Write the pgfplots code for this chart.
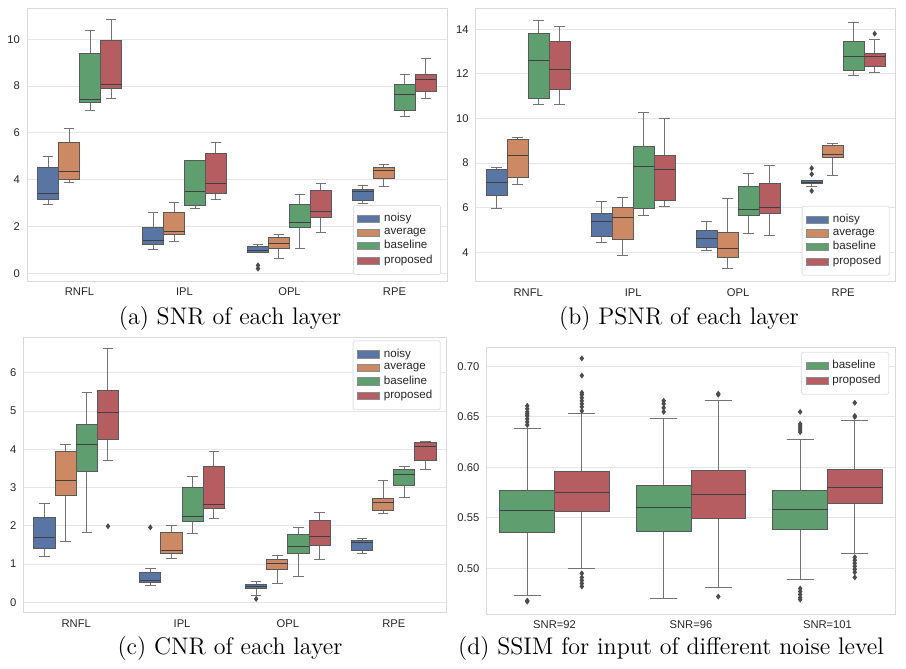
\documentclass[border=0pt]{standalone}
\usepackage{pgfplots}
\pgfplotsset{compat=1.18}
\usepgfplotslibrary{statistics}
\usepackage{fontspec}
\newfontfamily\arial{Liberation Sans}

\definecolor{cb}{HTML}{5875A4}
\definecolor{co}{HTML}{CC8963}
\definecolor{cg}{HTML}{5F9E6E}
\definecolor{cr}{HTML}{B55D60}

% one box: position, colour, low whisker, q1, median, q3, high whisker, outliers
\newcommand{\bx}[8]{\addplot[forget plot, fill=#2, draw=black!65, line width=0.5pt,
  mark=diamond*, mark size=1.1pt, mark options={fill=black!70, draw=black!70},
  boxplot prepared={draw direction=y, draw position=#1, lower whisker=#3, lower quartile=#4,
  median=#5, upper quartile=#6, upper whisker=#7}] coordinates {#8};}

\pgfplotsset{sb/.style={
  scale only axis, anchor=south west,
  axis line style={black!15},
  ymajorgrids, grid style={black!10, line width=0.5pt},
  major tick length=0pt,
  tick label style={font=\fontsize{5.6}{6.5}\selectfont\arial, text=black!85},
  /pgf/number format/assume math mode=true,
  xmin=-0.5, xmax=3.5, xtick={0,1,2,3}, xticklabels={RNFL,IPL,OPL,RPE},
  boxplot/box extend=0.2, boxplot/whisker extend=0.1,
  boxplot/every whisker/.style={black!55},
  boxplot/every median/.style={black!75},
  legend cell align=left,
  legend style={font=\fontsize{5.8}{6.5}\selectfont\arial, draw=black!12,
    rounded corners=1pt, text=black!85, row sep=-2.4pt, inner sep=2pt},
  legend image code/.code={\draw[##1, draw=black!45, line width=0.4pt, sharp corners] (0pt,-1.8pt) rectangle (11pt,1.8pt);},
}}

\begin{document}
\begin{tikzpicture}
\path[use as bounding box] (0,0) rectangle (453pt,334.5pt);

% (a) SNR
\begin{axis}[sb, width=210pt, height=136.5pt, at={(13.5pt,194pt)},
  ymin=-0.33, ymax=11.34, ytick={0,2,...,10},
  legend style={at={(1,0)}, anchor=south east, xshift=-3pt, yshift=3pt}]
\bx{-0.3}{cb}{2.95}{3.15}{3.43}{4.53}{5.01}{}
\bx{-0.1}{co}{3.9}{3.99}{4.37}{5.57}{6.2}{}
\bx{0.1}{cg}{6.97}{7.31}{7.44}{9.4}{10.36}{}
\bx{0.3}{cr}{7.49}{7.88}{8.05}{9.94}{10.83}{}
\bx{0.7}{cb}{1.0}{1.24}{1.42}{1.95}{2.6}{}
\bx{0.9}{co}{1.37}{1.64}{1.79}{2.6}{3.03}{}
\bx{1.1}{cg}{2.76}{2.89}{3.49}{4.83}{4.84}{}
\bx{1.3}{cr}{3.16}{3.4}{3.85}{5.1}{5.6}{}
\bx{1.7}{cb}{0.88}{0.9}{0.98}{1.14}{1.24}{(1.7,0.2) (1.7,0.34)}
\bx{1.9}{co}{0.63}{1.08}{1.28}{1.51}{1.64}{}
\bx{2.1}{cg}{1.07}{1.95}{2.18}{2.96}{3.38}{}
\bx{2.3}{cr}{1.75}{2.38}{2.66}{3.53}{3.83}{}
\bx{2.7}{cb}{2.98}{3.1}{3.49}{3.59}{3.76}{}
\bx{2.9}{co}{3.72}{4.07}{4.39}{4.52}{4.63}{}
\bx{3.1}{cg}{6.71}{6.94}{7.65}{8.05}{8.49}{}
\bx{3.3}{cr}{7.48}{7.75}{8.28}{8.49}{9.19}{}
\addlegendimage{fill=cb}\addlegendentry{noisy}
\addlegendimage{fill=co}\addlegendentry{average}
\addlegendimage{fill=cg}\addlegendentry{baseline}
\addlegendimage{fill=cr}\addlegendentry{proposed}
\end{axis}

% (b) PSNR
\begin{axis}[sb, width=210pt, height=136.7pt, at={(237.85pt,193.65pt)},
  ymin=2.68, ymax=14.94, ytick={4,6,...,14},
  legend style={at={(1,0)}, anchor=south east, xshift=-3pt, yshift=3pt}]
\bx{-0.3}{cb}{5.97}{6.56}{7.12}{7.69}{7.8}{}
\bx{-0.1}{co}{7.03}{7.36}{8.33}{9.05}{9.16}{}
\bx{0.1}{cg}{10.61}{10.91}{12.61}{13.81}{14.39}{}
\bx{0.3}{cr}{10.61}{11.29}{12.21}{13.43}{14.12}{}
\bx{0.7}{cb}{4.45}{4.72}{5.39}{5.73}{6.27}{}
\bx{0.9}{co}{3.85}{4.58}{5.57}{6.0}{6.47}{}
\bx{1.1}{cg}{5.66}{5.97}{7.84}{8.75}{10.26}{}
\bx{1.3}{cr}{6.06}{6.3}{7.69}{8.36}{9.99}{}
\bx{1.7}{cb}{4.06}{4.21}{4.6}{4.99}{5.38}{}
\bx{1.9}{co}{3.28}{3.78}{4.19}{4.88}{6.42}{}
\bx{2.1}{cg}{4.85}{5.63}{5.93}{6.96}{7.51}{}
\bx{2.3}{cr}{4.75}{5.75}{6.0}{7.08}{7.9}{}
\bx{2.7}{cb}{6.97}{7.09}{7.15}{7.2}{7.23}{(2.7,7.77) (2.7,7.5) (2.7,6.75)}
\bx{2.9}{co}{7.45}{8.25}{8.38}{8.8}{8.86}{}
\bx{3.1}{cg}{11.92}{12.16}{12.77}{13.43}{14.31}{}
\bx{3.3}{cr}{12.06}{12.34}{12.77}{12.91}{13.54}{(3.3,13.8)}
\addlegendimage{fill=cb}\addlegendentry{noisy}
\addlegendimage{fill=co}\addlegendentry{average}
\addlegendimage{fill=cg}\addlegendentry{baseline}
\addlegendimage{fill=cr}\addlegendentry{proposed}
\end{axis}

% (c) CNR
\begin{axis}[sb, width=211.7pt, height=137.5pt, at={(11.65pt,28.35pt)},
  ymin=-0.26, ymax=6.93, ytick={0,1,...,6},
  legend style={at={(1,1)}, anchor=north east, xshift=-3pt, yshift=-1.5pt}]
\bx{-0.3}{cb}{1.19}{1.42}{1.7}{2.21}{2.59}{}
\bx{-0.1}{co}{1.58}{2.79}{3.19}{3.94}{4.13}{}
\bx{0.1}{cg}{1.83}{3.43}{4.13}{4.64}{5.49}{}
\bx{0.3}{cr}{3.72}{4.25}{4.97}{5.54}{6.63}{(0.3,1.99)}
\bx{0.7}{cb}{0.43}{0.51}{0.57}{0.79}{0.88}{(0.7,1.96)}
\bx{0.9}{co}{1.15}{1.28}{1.35}{1.82}{2.02}{}
\bx{1.1}{cg}{1.8}{2.12}{2.24}{3.0}{3.29}{}
\bx{1.3}{cr}{2.2}{2.45}{2.57}{3.55}{3.94}{}
\bx{1.7}{cb}{0.17}{0.36}{0.42}{0.47}{0.54}{(1.7,0.09)}
\bx{1.9}{co}{0.5}{0.85}{1.01}{1.11}{1.23}{}
\bx{2.1}{cg}{0.67}{1.27}{1.45}{1.77}{1.96}{}
\bx{2.3}{cr}{1.13}{1.49}{1.71}{2.14}{2.35}{}
\bx{2.7}{cb}{1.29}{1.36}{1.56}{1.63}{1.66}{}
\bx{2.9}{co}{2.31}{2.4}{2.6}{2.72}{3.19}{}
\bx{3.1}{cg}{2.74}{3.06}{3.35}{3.48}{3.55}{}
\bx{3.3}{cr}{3.48}{3.7}{4.08}{4.18}{4.2}{}
\addlegendimage{fill=cb}\addlegendentry{noisy}
\addlegendimage{fill=co}\addlegendentry{average}
\addlegendimage{fill=cg}\addlegendentry{baseline}
\addlegendimage{fill=cr}\addlegendentry{proposed}
\end{axis}

% (d) SSIM
\begin{axis}[sb, width=204.7pt, height=133.35pt, at={(243.15pt,27.5pt)},
  xmin=-0.5, xmax=2.5, xtick={0,1,2}, xticklabels={SNR=92,SNR=96,SNR=101},
  ymin=0.4547, ymax=0.719, ytick={0.50,0.55,0.60,0.65,0.70},
  yticklabel style={/pgf/number format/.cd, fixed, fixed zerofill, precision=2},
  boxplot/box extend=0.4, boxplot/whisker extend=0.2,
  legend style={at={(1,1)}, anchor=north east, xshift=-3.3pt, yshift=-2.3pt}]
\bx{-0.2}{cg}{0.473}{0.535}{0.557}{0.577}{0.639}{(-0.2,0.642) (-0.2,0.645) (-0.2,0.648) (-0.2,0.651) (-0.2,0.653) (-0.2,0.655) (-0.2,0.658) (-0.2,0.661) (-0.2,0.467) (-0.2,0.468)}
\bx{0.2}{cr}{0.500}{0.556}{0.575}{0.596}{0.653}{(0.2,0.656) (0.2,0.660) (0.2,0.663) (0.2,0.666) (0.2,0.669) (0.2,0.672) (0.2,0.674) (0.2,0.691) (0.2,0.708) (0.2,0.495) (0.2,0.491) (0.2,0.488) (0.2,0.485) (0.2,0.482)}
\bx{0.8}{cg}{0.470}{0.536}{0.560}{0.582}{0.648}{(0.8,0.655) (0.8,0.659) (0.8,0.663) (0.8,0.666)}
\bx{1.2}{cr}{0.481}{0.549}{0.573}{0.597}{0.666}{(1.2,0.672) (1.2,0.673) (1.2,0.472)}
\bx{1.8}{cg}{0.489}{0.538}{0.558}{0.577}{0.628}{(1.8,0.635) (1.8,0.637) (1.8,0.639) (1.8,0.641) (1.8,0.643) (1.8,0.655) (1.8,0.480) (1.8,0.477) (1.8,0.474) (1.8,0.471) (1.8,0.469)}
\bx{2.2}{cr}{0.515}{0.564}{0.580}{0.598}{0.646}{(2.2,0.650) (2.2,0.651) (2.2,0.664) (2.2,0.511) (2.2,0.508) (2.2,0.505) (2.2,0.502) (2.2,0.499) (2.2,0.496) (2.2,0.491)}
\addlegendimage{fill=cg}\addlegendentry{baseline}
\addlegendimage{fill=cr}\addlegendentry{proposed}
\end{axis}

\node[anchor=base, font=\fontsize{12}{14}\selectfont] at (115pt,172pt) {(a) SNR of each layer};
\node[anchor=base, font=\fontsize{12}{14}\selectfont] at (339.5pt,172pt) {(b) PSNR of each layer};
\node[anchor=base, font=\fontsize{12}{14}\selectfont] at (115pt,7pt) {(c) CNR of each layer};
\node[anchor=base, font=\fontsize{12}{14}\selectfont] at (335.5pt,7pt) {(d) SSIM for input of different noise level};
\end{tikzpicture}
\end{document}
